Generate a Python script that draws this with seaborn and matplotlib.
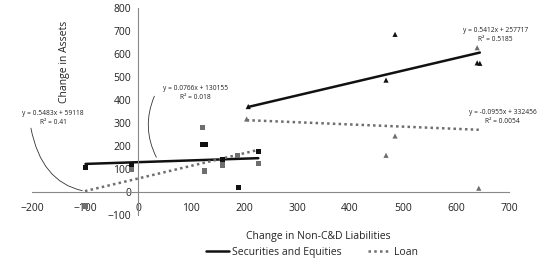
import numpy as np
import pandas as pd
import matplotlib
matplotlib.use("Agg")
import matplotlib.pyplot as plt
import seaborn as sns
from matplotlib.lines import Line2D

# %% data (thousands)
sq_black_x = [-99, -12, 122, 127, 160, 190, 227]
sq_black_y = [108, 120, 208, 208, 140, 20, 175]
sq_gray_x = [-100, -12, 122, 125, 160, 188, 227]
sq_gray_y = [-60, 100, 282, 92, 118, 159, 126]
tri_black_x = [208, 468, 485, 640, 645]
tri_black_y = [372, 487, 686, 562, 560]
tri_gray_x = [205, 468, 485, 640, 643]
tri_gray_y = [318, 160, 244, 628, 17]

# trendlines: slope, intercept (intercept in thousands)
trend_slope = [0.0766, 0.5483, 0.5412, -0.0955]
trend_icpt = [130.155, 59.118, 257.717, 332.456]
trend_labels = ["y = 0.0766x + 130155\nR\u00b2 = 0.018",
                "y = 0.5483x + 59118\nR\u00b2 = 0.41",
                "y = 0.5412x + 257717\nR\u00b2 = 0.5185",
                "y = -0.0955x + 332456\nR\u00b2 = 0.0054"]

x_ticks = [-200, -100, 0, 100, 200, 300, 400, 500, 600, 700]
y_ticks = [-100, 0, 100, 200, 300, 400, 500, 600, 700, 800]

# %% build frames
pts = pd.concat([
    pd.DataFrame({"x": sq_black_x, "y": sq_black_y, "grp": "sb"}),
    pd.DataFrame({"x": sq_gray_x, "y": sq_gray_y, "grp": "sg"}),
    pd.DataFrame({"x": tri_black_x, "y": tri_black_y, "grp": "tb"}),
    pd.DataFrame({"x": tri_gray_x, "y": tri_gray_y, "grp": "tg"}),
])
series_x = [sq_black_x, sq_gray_x, tri_black_x, tri_gray_x]
fits = []
for i, xs in enumerate(series_x):
    xx = np.array([min(xs), max(xs)], dtype=float)
    fits.append(pd.DataFrame({"x": xx, "y": trend_slope[i] * xx + trend_icpt[i], "fit": i}))
fits = pd.concat(fits)

BLACK = "#111111"
GRAY = "#6e6e6e"

sns.set_style("white")
plt.rcParams["font.family"] = ["Open Sans", "DejaVu Sans"]

fig = plt.figure(figsize=(5.47, 2.62), dpi=100)
ax = fig.add_axes([0.0585, 0.179, 0.872, 0.790])

pal = {"sb": BLACK, "sg": GRAY, "tb": BLACK, "tg": GRAY}
mk = {"sb": "s", "sg": "s", "tb": "^", "tg": "^"}
sns.scatterplot(data=pts, x="x", y="y", hue="grp", style="grp", palette=pal,
                markers=mk, s=14, linewidth=0, legend=False, ax=ax, zorder=3)

styles = [("-", BLACK), ((0, (1, 1.3)), GRAY), ("-", BLACK), ((0, (1, 1.3)), GRAY)]
for i in range(4):
    sns.lineplot(data=fits[fits.fit == i], x="x", y="y", ax=ax, color=styles[i][1],
                 linestyle=styles[i][0], linewidth=1.8, zorder=2)

ax.set_xlim(-200, 700)
ax.set_ylim(-100, 800)
ax.set_xticks(x_ticks)
ax.set_yticks(y_ticks)
ax.spines["left"].set_position(("data", 0))
ax.spines["bottom"].set_position(("data", 0))
ax.spines["top"].set_visible(False)
ax.spines["right"].set_visible(False)
for s in ["left", "bottom"]:
    ax.spines[s].set_color("#888888")
    ax.spines[s].set_linewidth(0.8)
ax.tick_params(axis="both", length=3, width=0.8, color="#888888", labelsize=7.5,
               labelcolor="#222222", pad=2, direction="out")
ax.tick_params(axis="x", pad=5)
ax.grid(False)

ax.set_xlabel("Change in Non-C&D Liabilities", fontsize=7.5, color="#222222")
ax.set_ylabel("Change in Assets", fontsize=7.5, color="#222222")
ax.xaxis.set_label_coords(0.6, -0.075)
ax.yaxis.set_label_coords(0.08, 0.74)

# trendline labels
lab_pos = [(108, 432), (-160, 322), (675, 683), (688, 327)]
for (tx, ty), lab in zip(lab_pos, trend_labels):
    ax.text(tx, ty, lab, fontsize=4.8, ha="center", va="center", color="#222222",
            linespacing=1.4, clip_on=False)

ax.annotate("", xy=(-100, 4), xytext=(-203, 290),
            arrowprops=dict(arrowstyle="-", color="#333333", lw=0.6,
                            connectionstyle="angle3,angleA=-80,angleB=-10"))
ax.annotate("", xy=(37, 141), xytext=(33, 428),
            arrowprops=dict(arrowstyle="-", color="#333333", lw=0.6,
                            connectionstyle="arc3,rad=0.25"))

handles = [Line2D([], [], color=BLACK, lw=1.8),
           Line2D([], [], color=GRAY, lw=1.8, linestyle=(0, (1, 1.3)))]
fig.legend(handles, ["Securities and Equities", "Loan"], loc="center",
           bbox_to_anchor=(0.57, 0.038), ncol=2, frameon=False, fontsize=7.5,
           handlelength=2.2, handletextpad=0.3, columnspacing=2.5)

fig.savefig("out.png", dpi=100)
